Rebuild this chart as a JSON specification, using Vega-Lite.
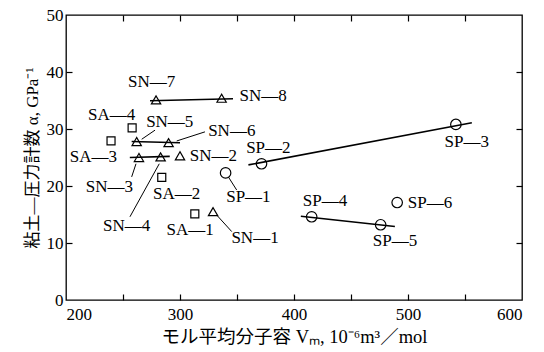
{
  "$schema": "https://vega.github.io/schema/vega-lite/v6.json",
  "width": 456,
  "height": 285,
  "autosize": "none",
  "padding": {"left": 66, "top": 15, "right": 22, "bottom": 52},
  "background": "white",
  "config": {
    "view": {"stroke": "black", "strokeWidth": 1.3},
    "axis": {
      "grid": false,
      "domain": false,
      "tickColor": "black",
      "tickWidth": 1.2,
      "tickSize": 6,
      "labelColor": "black",
      "labelFont": "Liberation Serif",
      "labelFontSize": 17,
      "titleColor": "black",
      "titleFont": "Liberation Serif, Noto Sans CJK JP",
      "titleFontSize": 17,
      "titleFontWeight": "normal"
    },
    "text": {"font": "Liberation Serif", "fontSize": 17, "color": "black"}
  },
  "datasets": {
    "samples": [
      {"id": "SA—1", "type": "SA", "vm": 313, "alpha": 15.1},
      {"id": "SA—2", "type": "SA", "vm": 284, "alpha": 21.5},
      {"id": "SA—3", "type": "SA", "vm": 239.5, "alpha": 27.9},
      {"id": "SA—4", "type": "SA", "vm": 258, "alpha": 30.2},
      {"id": "SN—1", "type": "SN", "vm": 329, "alpha": 15.5},
      {"id": "SN—2", "type": "SN", "vm": 300, "alpha": 25.3},
      {"id": "SN—3", "type": "SN", "vm": 264, "alpha": 25.0},
      {"id": "SN—4", "type": "SN", "vm": 283, "alpha": 25.1},
      {"id": "SN—5", "type": "SN", "vm": 262, "alpha": 27.8},
      {"id": "SN—6", "type": "SN", "vm": 290, "alpha": 27.6},
      {"id": "SN—7", "type": "SN", "vm": 279, "alpha": 35.1},
      {"id": "SN—8", "type": "SN", "vm": 336.5, "alpha": 35.4},
      {"id": "SP—1", "type": "SP", "vm": 340, "alpha": 22.3},
      {"id": "SP—2", "type": "SP", "vm": 371.5, "alpha": 23.9},
      {"id": "SP—3", "type": "SP", "vm": 542, "alpha": 30.8},
      {"id": "SP—4", "type": "SP", "vm": 415.5, "alpha": 14.6},
      {"id": "SP—5", "type": "SP", "vm": 476, "alpha": 13.2},
      {"id": "SP—6", "type": "SP", "vm": 490.5, "alpha": 17.1}
    ],
    "trends": [
      {"group": "SN-7/8", "vm": 273.7, "alpha": 34.96},
      {"group": "SN-7/8", "vm": 346.5, "alpha": 35.3},
      {"group": "SN-5/6", "vm": 257.6, "alpha": 27.8},
      {"group": "SN-5/6", "vm": 300, "alpha": 27.6},
      {"group": "SN-3/4", "vm": 256, "alpha": 25.0},
      {"group": "SN-3/4", "vm": 291, "alpha": 25.2},
      {"group": "SP-2/3", "vm": 360, "alpha": 23.7},
      {"group": "SP-2/3", "vm": 556, "alpha": 31.1},
      {"group": "SP-4/5", "vm": 406, "alpha": 14.7},
      {"group": "SP-4/5", "vm": 488.5, "alpha": 12.9}
    ],
    "leaders": [
      {"id": "SN—5", "vm": 278.1, "alpha": 29.8, "vm2": 266.4, "alpha2": 28.2},
      {"id": "SN—6", "vm": 321.9, "alpha": 29.5, "vm2": 297.1, "alpha2": 27.9},
      {"id": "SN—3", "vm": 257.6, "alpha": 21.6, "vm2": 261.4, "alpha2": 23.9},
      {"id": "SN—4", "vm": 256.1, "alpha": 14.6, "vm2": 281.8, "alpha2": 23.9},
      {"id": "SP—1", "vm": 342.4, "alpha": 21.6, "vm2": 349.7, "alpha2": 19.3},
      {"id": "SN—1", "vm": 332.2, "alpha": 14.9, "vm2": 345.4, "alpha2": 12.0}
    ],
    "labels": [
      {"id": "SN—7", "vm": 275.2, "alpha": 38.3},
      {"id": "SN—8", "vm": 373, "alpha": 35.8},
      {"id": "SA—4", "vm": 240, "alpha": 32.5},
      {"id": "SN—5", "vm": 291, "alpha": 31.2},
      {"id": "SN—6", "vm": 345.4, "alpha": 29.6},
      {"id": "SA—3", "vm": 224, "alpha": 25.1},
      {"id": "SN—2", "vm": 329.2, "alpha": 25.3},
      {"id": "SP—2", "vm": 377.5, "alpha": 26.6},
      {"id": "SN—3", "vm": 238, "alpha": 19.9},
      {"id": "SA—2", "vm": 297, "alpha": 18.6},
      {"id": "SP—1", "vm": 360, "alpha": 18.0},
      {"id": "SN—4", "vm": 253.2, "alpha": 12.9},
      {"id": "SA—1", "vm": 308.8, "alpha": 12.2},
      {"id": "SN—1", "vm": 365.8, "alpha": 10.8},
      {"id": "SP—4", "vm": 427.2, "alpha": 17.4},
      {"id": "SP—5", "vm": 488.6, "alpha": 10.4},
      {"id": "SP—6", "vm": 519.3, "alpha": 17.0},
      {"id": "SP—3", "vm": 551.5, "alpha": 27.8}
    ]
  },
  "resolve": {"axis": {"x": "independent", "y": "independent"}},
  "layer": [
    {
      "data": {"name": "trends"},
      "mark": {"type": "line", "color": "black", "strokeWidth": 1.6},
      "encoding": {
        "x": {
          "field": "vm", "type": "quantitative",
          "scale": {"domain": [200, 600], "nice": false, "zero": false},
          "axis": {"orient": "top", "offset": -6, "values": [250, 300, 350, 400, 450, 500, 550], "labels": false, "title": null}
        },
        "y": {
          "field": "alpha", "type": "quantitative",
          "scale": {"domain": [0, 50], "nice": false},
          "axis": {"orient": "right", "offset": -6, "values": [10, 20, 30, 40], "labels": false, "title": null}
        },
        "detail": {"field": "group"}
      }
    },
    {
      "data": {"name": "leaders"},
      "mark": {"type": "rule", "color": "black", "strokeWidth": 1},
      "encoding": {
        "x": {
          "field": "vm", "type": "quantitative",
          "axis": {"orient": "bottom", "offset": -6, "values": [250, 300, 350, 400, 450, 500, 550], "labels": false, "title": null}
        },
        "y": {
          "field": "alpha", "type": "quantitative",
          "axis": {"orient": "left", "offset": -6, "values": [10, 20, 30, 40], "labels": false, "title": null}
        },
        "x2": {"field": "vm2"},
        "y2": {"field": "alpha2"}
      }
    },
    {
      "data": {"name": "samples"},
      "mark": {"type": "point", "filled": false, "color": "black", "strokeWidth": 1.2, "opacity": 1},
      "encoding": {
        "x": {
          "field": "vm", "type": "quantitative",
          "axis": {
            "orient": "bottom",
            "values": [200, 300, 400, 500, 600],
            "ticks": false,
            "labelPadding": 6,
            "title": "モル平均分子容 Vₘ, 10⁻⁶m³／mol",
            "titleFontSize": 18.5,
            "titlePadding": 5
          }
        },
        "y": {
          "field": "alpha", "type": "quantitative",
          "axis": {
            "orient": "left",
            "values": [0, 10, 20, 30, 40, 50],
            "ticks": false,
            "labelPadding": 3,
            "title": "粘土—圧力計数 α, GPa⁻¹",
            "titlePadding": 5
          }
        },
        "shape": {
          "field": "type", "type": "nominal",
          "scale": {"domain": ["SA", "SN", "SP"], "range": ["square", "triangle-up", "circle"]},
          "legend": null
        },
        "size": {
          "field": "type", "type": "nominal",
          "scale": {"domain": ["SA", "SN", "SP"], "range": [64, 110, 95]},
          "legend": null
        }
      }
    },
    {
      "data": {"name": "labels"},
      "mark": {"type": "text", "align": "center", "baseline": "middle"},
      "encoding": {
        "x": {"field": "vm", "type": "quantitative", "axis": null},
        "y": {"field": "alpha", "type": "quantitative", "axis": null},
        "text": {"field": "id"}
      }
    }
  ]
}
